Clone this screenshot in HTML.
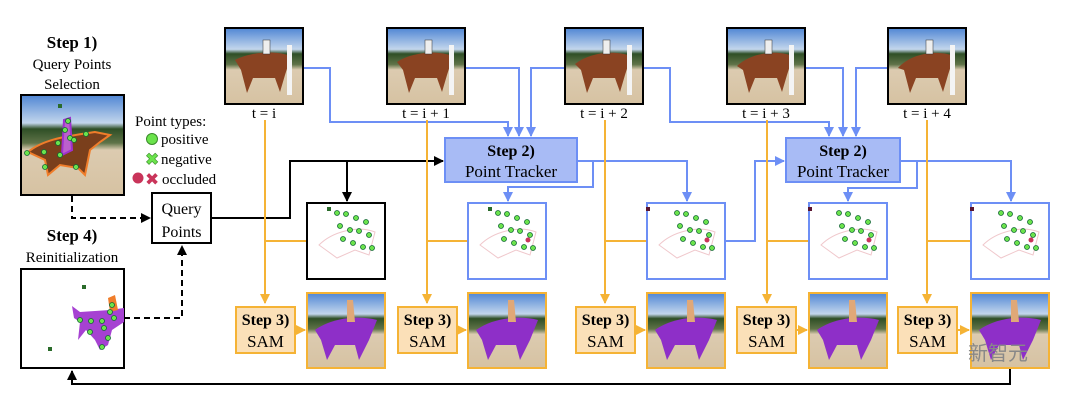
<!DOCTYPE html>
<html><head><meta charset="utf-8">
<style>
html,body{margin:0;padding:0;background:#fff;}
svg{display:block;font-family:"Liberation Serif","Noto Serif CJK SC",serif;}
</style></head>
<body>
<svg id="fig" width="1080" height="400" viewBox="0 0 1080 400">
<defs>
<marker id="ab" viewBox="0 0 10 10" refX="9" refY="5" markerWidth="5" markerHeight="5" orient="auto"><path d="M0,0L10,5L0,10z" fill="#6d8ff5"/></marker>
<marker id="ak" viewBox="0 0 10 10" refX="9" refY="5" markerWidth="5" markerHeight="5" orient="auto"><path d="M0,0L10,5L0,10z" fill="#000"/></marker>
<marker id="ao" viewBox="0 0 10 10" refX="9" refY="5" markerWidth="5" markerHeight="5" orient="auto"><path d="M0,0L10,5L0,10z" fill="#f5b335"/></marker>
<linearGradient id="sky" x1="0" y1="0" x2="0" y2="1">
<stop offset="0" stop-color="#4f86d4"/><stop offset="0.28" stop-color="#c3d6ec"/><stop offset="0.34" stop-color="#2f4f26"/><stop offset="0.48" stop-color="#5f7348"/><stop offset="0.55" stop-color="#dccbb0"/><stop offset="1" stop-color="#d6c2a2"/></linearGradient>
</defs>

<g text-anchor="middle">
<text x="72" y="48" font-size="17" font-weight="bold">Step 1)</text>
<text x="72" y="69" font-size="15">Query Points</text>
<text x="72" y="89" font-size="15">Selection</text>
</g>
<g>
<rect x="21" y="95" width="103" height="100" fill="url(#sky)" stroke="#000" stroke-width="2"/>
<path d="M28,152 C45,138 70,136 95,132 L110,135 L100,142 L90,150 L85,175 L78,168 L60,165 L48,175 L45,160 Z" fill="#7a3f1c" stroke="#f07d2a" stroke-width="2"/>
<path d="M64,120 L70,118 L72,150 L62,155 Z" fill="#bb60cc" stroke="#a030d0" stroke-width="2"/>
<g fill="#6be34c" stroke="#163" stroke-width="0.8">
<circle cx="68" cy="121" r="2.5"/><circle cx="65" cy="130" r="2.5"/><circle cx="70" cy="138" r="2.5"/><circle cx="58" cy="143" r="2.5"/><circle cx="74" cy="140" r="2.5"/><circle cx="86" cy="134" r="2.5"/><circle cx="27" cy="153" r="2.5"/><circle cx="44" cy="152" r="2.5"/><circle cx="45" cy="167" r="2.5"/><circle cx="76" cy="167" r="2.5"/><circle cx="60" cy="155" r="2.5"/>
</g>
<rect x="58" y="104" width="4" height="4" fill="#2a6b2a"/>
</g>
<g font-size="15">
<text x="135" y="126">Point types:</text>
<circle cx="152" cy="139" r="5.5" fill="#6be34c" stroke="#3a8a2a"/>
<text x="161" y="144">positive</text>
<text x="145" y="165" font-size="17" fill="#6be34c" stroke="#3a8a2a" stroke-width="0.6">✖</text>
<text x="161" y="164">negative</text>
<circle cx="138" cy="178" r="5.5" fill="#c9345a"/>
<text x="145" y="185" font-size="17" fill="#c9345a">✖</text>
<text x="162" y="184">occluded</text>
</g>
<g>
<rect x="152" y="193" width="59" height="50" fill="#fff" stroke="#000" stroke-width="2"/>
<text x="181.5" y="214" font-size="16" text-anchor="middle">Query</text>
<text x="181.5" y="237" font-size="16" text-anchor="middle">Points</text>
</g>
<g text-anchor="middle">
<text x="72" y="241" font-size="17" font-weight="bold">Step 4)</text>
<text x="72" y="262" font-size="15">Reinitialization</text>
</g>
<g>
<rect x="21" y="269" width="103" height="99" fill="#fff" stroke="#000" stroke-width="2"/>
<path d="M72,306 L80,312 L110,310 L124,308 L124,322 L112,330 L108,345 L100,350 L95,340 L86,330 L78,340 L80,322 L74,318 Z" fill="#a641d2"/>
<path d="M108,298 L115,295 L118,310 L110,312 Z" fill="#f07d2a"/>
<g fill="#6be34c" stroke="#163" stroke-width="0.8"><circle cx="80" cy="320" r="2.5"/><circle cx="91" cy="321" r="2.5"/><circle cx="102" cy="321" r="2.5"/><circle cx="110" cy="312" r="2.5"/><circle cx="114" cy="318" r="2.5"/><circle cx="112" cy="305" r="2.5"/><circle cx="90" cy="332" r="2.5"/><circle cx="104" cy="328" r="2.5"/><circle cx="108" cy="338" r="2.5"/><circle cx="102" cy="347" r="2.5"/></g>
<rect x="82" y="285" width="4" height="4" fill="#2a6b2a"/><rect x="48" y="347" width="4" height="4" fill="#2a6b2a"/>
</g>
<path d="M72,196 V218 H150" fill="none" stroke="#000" stroke-width="2" stroke-dasharray="6,4" marker-end="url(#ak)"/>
<path d="M124,318 H182 V246" fill="none" stroke="#000" stroke-width="2" stroke-dasharray="6,4" marker-end="url(#ak)"/>
<path d="M211,218 H290 V161 H443" fill="none" stroke="#000" stroke-width="2" marker-end="url(#ak)"/>
<path d="M347,161 V201" fill="none" stroke="#000" stroke-width="2" marker-end="url(#ak)"/>
<path d="M1010,368 V384 H72 V371" fill="none" stroke="#000" stroke-width="2" marker-end="url(#ak)"/>

<g fill="none" stroke="#6d8ff5" stroke-width="2">
<path d="M303,68 H330 V122 H508 V136" marker-end="url(#ab)"/>
<path d="M465,68 H519 V136" marker-end="url(#ab)"/>
<path d="M565,68 H531 V136" marker-end="url(#ab)"/>
<path d="M644,68 H670 V122 H829 V136" marker-end="url(#ab)"/>
<path d="M805,68 H843 V136" marker-end="url(#ab)"/>
<path d="M888,68 H856 V136" marker-end="url(#ab)"/>
<path d="M577,161 H687 V201" marker-end="url(#ab)"/>
<path d="M593,161 V187 H508 V201" marker-end="url(#ab)"/>
<path d="M725,241 H755 V161 H784" marker-end="url(#ab)"/>
<path d="M900,161 H1011 V201" marker-end="url(#ab)"/>
<path d="M917,161 V188 H848 V201" marker-end="url(#ab)"/>
</g>
<g>
<rect x="445" y="138" width="132" height="44" fill="#a8bbf5" stroke="#6d8ff5" stroke-width="2"/>
<text x="511" y="156" font-size="16" font-weight="bold" text-anchor="middle">Step 2)</text>
<text x="511" y="177" font-size="17" text-anchor="middle">Point Tracker</text>
</g>
<g>
<rect x="786" y="138" width="114" height="44" fill="#a8bbf5" stroke="#6d8ff5" stroke-width="2"/>
<text x="843" y="156" font-size="16" font-weight="bold" text-anchor="middle">Step 2)</text>
<text x="843" y="177" font-size="17" text-anchor="middle">Point Tracker</text>
</g>
<g id="cols"></g>
<text x="968" y="360" font-size="20" fill="#888" font-family="'Noto Sans CJK SC',sans-serif">新智元</text>
</svg>
<script>
const frameLabels = ["t = i","t = i + 1","t = i + 2","t = i + 3","t = i + 4"];
const photoX = [225,387,565,727,888];
const panelX = [307,468,647,809,971];
const lineX = [265,427,605,767,927];
const samX = [236,398,576,737,898];
const NS="http://www.w3.org/2000/svg";
const cols=document.getElementById('cols');
function mk(tag,attrs,parent){const e=document.createElementNS(NS,tag);for(const k in attrs)e.setAttribute(k,attrs[k]);parent.appendChild(e);return e;}
frameLabels.forEach((lab,i)=>{
  const g=mk('g',{},cols);
  
  
  const px=photoX[i];
  const o=mk('path',{d:`M${lineX[i]},120 V303`,fill:'none',stroke:'#f5b335','stroke-width':2,'marker-end':'url(#ao)'},g);
  
  
  const oh=mk('path',{d:`M${lineX[i]},241 H${panelX[i]}`,fill:'none',stroke:'#f5b335','stroke-width':2},g);
  
  
  const ph=mk('g',{},g);
  
  
  mk('rect',{x:px,y:28,width:78,height:76,fill:'url(#sky)',stroke:'#000','stroke-width':2},ph);
  mk('path',{d:`M${px+10},${60+i*2} C${px+25},${52} ${px+50},${50} ${px+66},${56} L${px+60},${75} L${px+55},${92} L${px+50},${78} L${px+28},${78} L${px+22},${93} L${px+16},${70} Z`,fill:'#8a4322'},ph);
  mk('rect',{x:px+38,y:40,width:7,height:14,fill:'#eee',stroke:'#333','stroke-width':0.5},ph);
  mk('rect',{x:px+62,y:45,width:5,height:50,fill:'#f4f4f4'},ph);
  const t=mk('text',{x:px+39,y:118,'font-size':15,'text-anchor':'middle'},g);
  t.textContent=lab;
  
  
  const pn=mk('g',{},g);
  
  
  const q=panelX[i];
  mk('rect',{x:q,y:203,width:78,height:76,fill:'#fff',stroke:i==0?'#000':'#6d8ff5','stroke-width':2},pn);
  mk('path',{d:`M${q+12},${245} C${q+25},${232} ${q+50},${225} ${q+68},${232} L${q+62},${255} L${q+48},${250} L${q+30},${258} Z`,fill:'none',stroke:'#f0c8cc','stroke-width':1},pn);
  for(let k=0;k<12;k++){
    mk('circle',{cx:q+30+((k*13)%36),cy:213+((k*17)%38),r:2.5,fill:'#6be34c',stroke:'#163','stroke-width':0.8},pn);
  }
  if(i>0) mk('circle',{cx:q+60,cy:240,r:2.5,fill:'#c9345a'},pn);
  mk('rect',{x:q+(i>1?-1:20),y:207,width:4,height:4,fill:i>1?'#5a1530':'#2a6b2a'},pn);
  const sb=mk('g',{},g);
  
  
  mk('rect',{x:samX[i],y:307,width:59,height:46,fill:'#fbe0b8',stroke:'#f5b335','stroke-width':2},sb);
  const s1=mk('text',{x:samX[i]+29.5,y:325,'font-size':16,'font-weight':'bold','text-anchor':'middle'},sb);s1.textContent='Step 3)';
  const s2=mk('text',{x:samX[i]+29.5,y:347,'font-size':17,'text-anchor':'middle'},sb);s2.textContent='SAM';
  const sa=mk('path',{d:`M${samX[i]+59},330 H${panelX[i]-2}`,fill:'none',stroke:'#f5b335','stroke-width':2,'marker-end':'url(#ao)'},g);
  
  
  const so=mk('g',{},g);
  
  
  mk('rect',{x:q,y:293,width:78,height:75,fill:'url(#sky)',stroke:'#f5b335','stroke-width':2},so);
  mk('path',{d:`M${q+8},${330} C${q+25},${318} ${q+50},${315} ${q+70},${320} L${q+62},${340} L${q+52},${360} L${q+48},${345} L${q+28},${345} L${q+20},${360} L${q+14},${340} Z`,fill:'#8e2fc8'},so);
  mk('path',{d:`M${q+40},${300} L${q+46},${300} L${q+48},${322} L${q+40},${322} Z`,fill:'#e0a878'},so);
});
</script>
</body></html>
